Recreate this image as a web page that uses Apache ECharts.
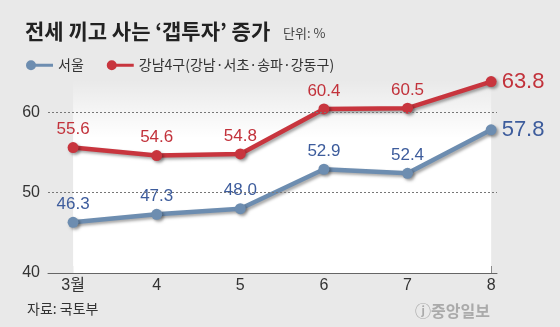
<!DOCTYPE html>
<html><head><meta charset="utf-8">
<script src="https://cdn.jsdelivr.net/npm/echarts@6/dist/echarts.min.js"></script>
<style>html,body{margin:0;padding:0;background:#e9e9e9;}#c{width:560px;height:327px;}</style>
</head><body><div id="c"></div>
<script>
const categories = ['3월', '4', '5', '6', '7', '8'];
const seoul = [46.3, 47.3, 48.0, 52.9, 52.4, 57.8];
const gangnam = [55.6, 54.6, 54.8, 60.4, 60.5, 63.8];
const yTicks = [40, 50, 60];
const gridLines = [50, 60];
const FONT = '"Liberation Sans", "Noto Sans CJK KR", sans-serif';
const KFONT = '"Noto Sans CJK KR", sans-serif';
const BLUE = '#6d8db0', RED = '#c8353e', BLUE_T = '#3d5c9c', RED_T = '#c2323b';

function mkSeries(name, arr, color, tcolor) {
  return {
    name, type: 'line', symbol: 'circle', symbolSize: 11,
    data: arr.map((v, i) => i === arr.length - 1
      ? { value: [i, v], label: { position: 'right', fontSize: 22, distance: 5 } }
      : [i, v]),
    lineStyle: { width: 4.5, color, shadowColor: 'rgba(0,0,0,0.35)', shadowBlur: 3, shadowOffsetX: 2, shadowOffsetY: 2 },
    itemStyle: { color, shadowColor: 'rgba(0,0,0,0.35)', shadowBlur: 3, shadowOffsetX: 2, shadowOffsetY: 2 },
    label: { show: true, position: 'top', distance: 4, color: tcolor, fontFamily: FONT, fontSize: 17,
      formatter: p => p.value[1].toFixed(1) },
    z: 3
  };
}
const s1 = mkSeries('서울', seoul, BLUE, BLUE_T);
const s2 = mkSeries('강남4구(강남·서초·송파·강동구)', gangnam, RED, RED_T);
s1.markArea = {
  silent: true,
  itemStyle: { color: { type: 'linear', x: 0, y: 0, x2: 0, y2: 1,
    colorStops: [{ offset: 0, color: 'rgba(255,255,255,0)' }, { offset: 0.3, color: '#ffffff' }, { offset: 1, color: '#ffffff' }] } },
  data: [[{ coord: [0, 64] }, { coord: [5, 40] }]]
};
s1.markLine = {
  silent: true, symbol: 'none', label: { show: false },
  lineStyle: { color: '#777', type: [2, 2], width: 1 },
  data: gridLines.map(v => ({ yAxis: v }))
};

const chart = echarts.init(document.getElementById('c'));
chart.setOption({
  backgroundColor: '#e9e9e9',
  animation: false,
  title: [
    { text: '전세 끼고 사는 ‘갭투자’ 증가', left: 20, top: 16,
      textStyle: { fontFamily: KFONT, fontSize: 21, fontWeight: 'bold', color: '#222' } },
    { text: '단위: %', left: 278, top: 22, textStyle: { fontFamily: KFONT, fontSize: 13, fontWeight: 'normal', color: '#444' } },
    { text: '자료: 국토부', left: 22, top: 297, textStyle: { fontFamily: KFONT, fontSize: 14, fontWeight: 'normal', color: '#333' } },
    { text: 'ⓙ중앙일보', left: 410, top: 298, textStyle: { fontFamily: KFONT, fontSize: 16, fontWeight: 'bold', color: '#aaa' } }
  ],
  legend: {
    left: 20, top: 53, itemWidth: 28, itemHeight: 11, itemGap: 22,
    textStyle: { fontFamily: KFONT, fontSize: 14, color: '#333' },
    data: [
      { name: '서울', icon: 'path://M0,0 m1,5.5 a5,5 0 1,1 10,0 a5,5 0 1,1 -10,0 Z M8,4 L28,4 L28,7 L8,7 Z' },
      { name: '강남4구(강남·서초·송파·강동구)', icon: 'path://M0,0 m1,5.5 a5,5 0 1,1 10,0 a5,5 0 1,1 -10,0 Z M8,4 L28,4 L28,7 L8,7 Z' }
    ]
  },
  grid: { left: 48, right: 63, top: 80, bottom: 54 },
  xAxis: {
    type: 'value', min: -0.3, max: 5.07,
    axisLine: { show: true, lineStyle: { color: '#666', width: 1 } },
    axisTick: { show: true, inside: true, length: 7, lineStyle: { color: '#777' }, customValues: [0, 1, 2, 3, 4, 5] },
    axisLabel: { customValues: [0, 1, 2, 3, 4, 5], formatter: v => categories[Math.round(v)], fontFamily: FONT, fontSize: 16, color: '#333', margin: 5 },
    splitLine: { show: false }
  },
  yAxis: {
    type: 'value', min: 40, max: 64,
    axisLine: { show: false }, axisTick: { show: false }, splitLine: { show: false },
    axisLabel: { customValues: yTicks, fontFamily: FONT, fontSize: 16, color: '#333', margin: 8 }
  },
  series: [s1, s2]
});
</script></body></html>
